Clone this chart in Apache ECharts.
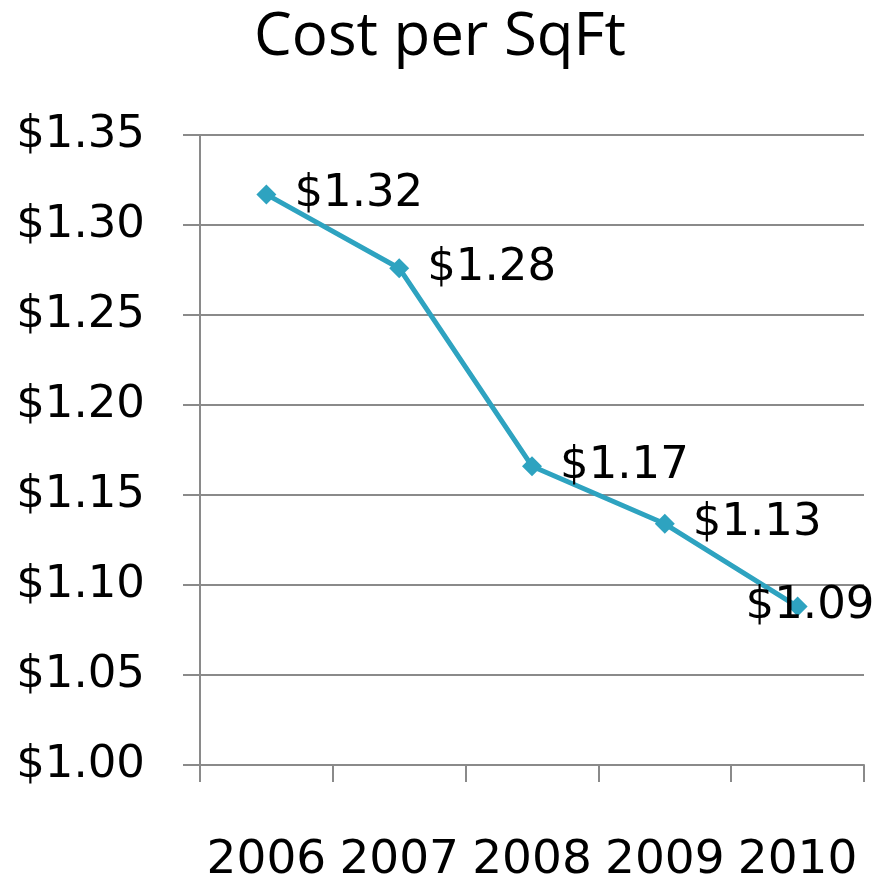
<!DOCTYPE html>
<html><head><meta charset="utf-8">
<script src="https://cdn.jsdelivr.net/npm/echarts@6/dist/echarts.min.js"></script>
<style>html,body{margin:0;padding:0;background:#fff}#c{width:885px;height:877px}</style>
</head><body><div id="c"></div>
<script>
var categories = ['2006', '2007', '2008', '2009', '2010'];
var costPerSqFt = [1.317, 1.276, 1.166, 1.134, 1.088];
var yMin = 1.00, yMax = 1.35, yStep = 0.05;

var font = 'DejaVu Sans';
var chart = echarts.init(document.getElementById('c'));
var data = costPerSqFt.map(function (v, i) {
  var d = { value: v };
  if (i === costPerSqFt.length - 1) {
    d.label = { position: 'right', offset: [-80, 0] };
  }
  return d;
});
chart.setOption({
  animation: false,
  title: {
    text: 'Cost per SqFt', left: 249, top: 3,
    textStyle: { fontFamily: 'Open Sans', fontSize: 60, fontWeight: 'normal', color: '#000' }
  },
  grid: { left: 200, right: 21, top: 135, bottom: 112, outerBoundsMode: 'none', containLabel: false },
  xAxis: {
    type: 'category', data: categories, boundaryGap: true,
    axisLine: { lineStyle: { color: '#8a8a8a', width: 2 } },
    axisTick: { show: true, length: 17, lineStyle: { color: '#8a8a8a', width: 2 } },
    axisLabel: { interval: 0, margin: 72, fontFamily: font, fontSize: 47, color: '#000' }
  },
  yAxis: {
    type: 'value', min: yMin, max: yMax, interval: yStep,
    axisLine: { show: true, lineStyle: { color: '#8a8a8a', width: 2 } },
    axisTick: { show: true, length: 17, lineStyle: { color: '#8a8a8a', width: 2 } },
    splitLine: { show: true, lineStyle: { color: '#8a8a8a', width: 2 } },
    axisLabel: {
      margin: 55, fontFamily: font, fontSize: 45, color: '#000', padding: [0, 0, 8, 0],
      formatter: function (v) { return '$' + v.toFixed(2); }
    }
  },
  series: [{
    type: 'line', data: data,
    symbol: 'diamond', symbolSize: 20,
    lineStyle: { color: '#2ea3c0', width: 5 },
    itemStyle: { color: '#2ea3c0' },
    label: {
      show: true, position: 'right', distance: 18, padding: [0, 0, 4, 0],
      fontFamily: font, fontSize: 45, color: '#000',
      formatter: function (p) { return '$' + p.value.toFixed(2); }
    }
  }]
});
</script></body></html>
